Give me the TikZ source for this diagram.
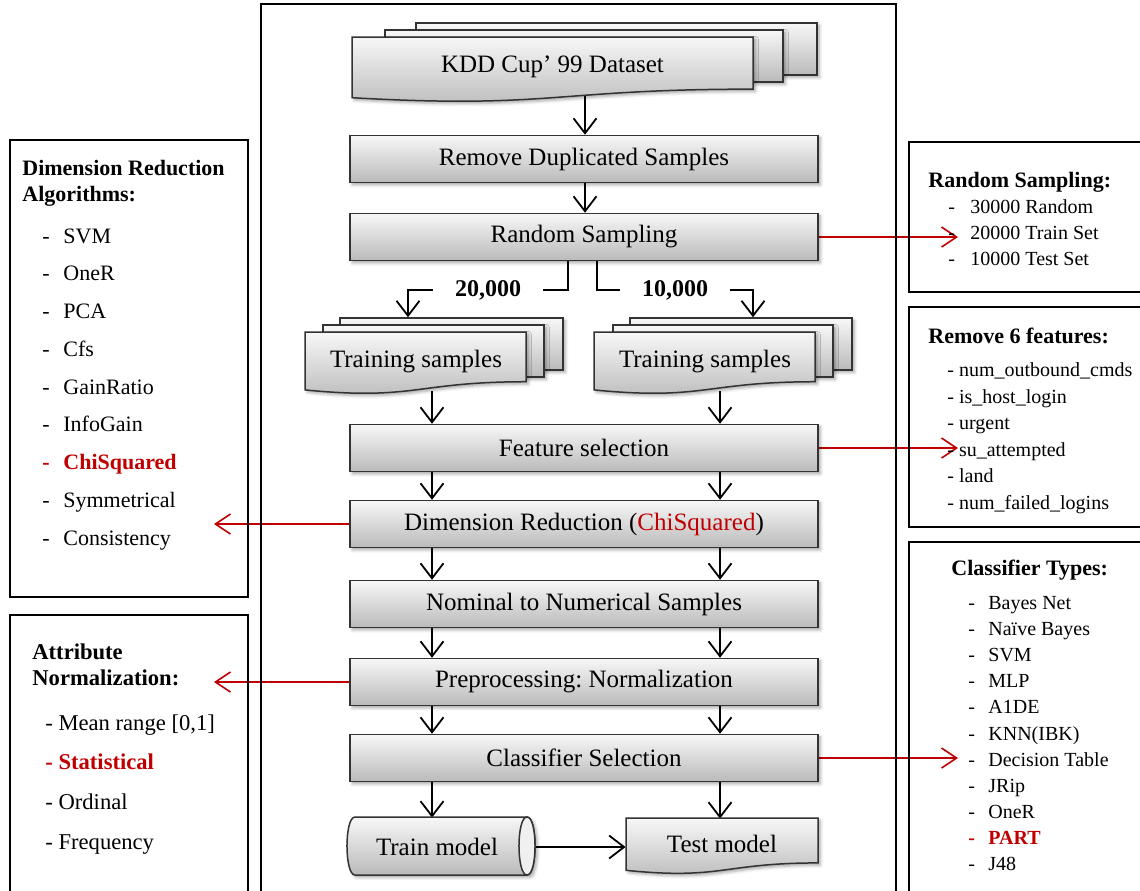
\documentclass[tikz,border=0pt]{standalone}
\usepackage{fontspec}
\setmainfont{Liberation Serif}
\usetikzlibrary{arrows.meta,shadows.blur,calc}
\definecolor{myred}{RGB}{192,0,0}
\pgfdeclarelayer{background}
\pgfsetlayers{background,main}
\frenchspacing
\newcommand\hlfmt{\color{myred}\bfseries}
\newcommand\mydoc[4]{% x1,y1,x2,h
  \path[gfill,shd] (#1,#2) -- (#3,#2) -- (#3,{#2+0.802*#4})
    .. controls ({(#1+#3)/2},{#2+0.802*#4}) and ({(#1+#3)/2},{#2+1.108*#4}) .. (#1,{#2+0.934*#4}) -- cycle;}
\tikzset{
  shd/.style={blur shadow={shadow xshift=1.2pt,shadow yshift=-1.2pt,shadow blur radius=1.5pt,shadow opacity=35}},
  gfill/.style={top color=black!3, bottom color=black!27, draw=black!80, line width=0.75pt},
  box/.style={gfill, shd, minimum width=234pt, minimum height=23.5pt, inner sep=0pt, font=\fontsize{12.5}{15}\selectfont},
  layerbox/.style={gfill, shd, inner sep=0pt},
  doctext/.style={inner sep=0pt, font=\fontsize{12.5}{15}\selectfont},
  frame/.style={draw=black, line width=1pt},
  arr/.style={draw=black, line width=0.9pt, -{Straight Barb[length=7.5pt,width=11.5pt]}},
  rarr/.style={draw=myred, line width=1pt, -{Straight Barb[length=7.5pt,width=10pt,line width=0.8pt]}},
  lbl/.style={fill=white, inner xsep=11pt, inner ysep=2pt, font=\fontsize{12}{14}\selectfont\bfseries},
  itm/.style={anchor=base west, inner sep=0pt, font=\fontsize{11}{13}\selectfont},
  sitm/.style={anchor=base west, inner sep=0pt, font=\fontsize{10}{12}\selectfont},
  litm/.style={anchor=base west, inner sep=0pt, font=\fontsize{11.3}{13}\selectfont},
  ttl/.style={itm, font=\fontsize{11}{13}\selectfont\bfseries},
  lttl/.style={itm, font=\fontsize{11.3}{13}\selectfont\bfseries},
}
\begin{document}
\begin{tikzpicture}[x=0.5pt,y=-0.5pt]
\useasboundingbox (0,0) rectangle (1140,890);
\clip (0,0) rectangle (1140,890);

% lane coordinates
\coordinate (lane0) at (585,0);
\coordinate (laneL) at (432,0);
\coordinate (laneR) at (720,0);
\coordinate (sL) at (568,0);
\coordinate (sR) at (597,0);
\coordinate (aL) at (408,0);
\coordinate (aR) at (753,0);
\coordinate (tipR) at (958,0);
\coordinate (tipL) at (214,0);

% frames
\draw[frame] (261,4) rectangle (896,910);
\draw[frame] (10,140) rectangle (248,597);
\draw[frame] (10,615) rectangle (248,910);
\draw[frame] (909,142) rectangle (1160,292);
\draw[frame] (909,307) rectangle (1160,527);
\draw[frame] (909,542) rectangle (1160,910);

% KDD multidocument
\node[layerbox, minimum width=200.5pt, minimum height=26pt] (kddb) at (616.5,49) {};
\node[layerbox, minimum width=199pt, minimum height=26pt] (kddm) at (584,56) {};
\mydoc{352}{37}{753}{65}
\node[doctext, minimum width=200.5pt, minimum height=29pt] (kdd) at (552.5,67) {KDD Cup’ 99 Dataset};

% boxes
\node[box] (rds) at (584,159) {Remove Duplicated Samples};
\node[box] (rs) at (584,237) {Random Sampling};

% training samples left
\node[layerbox, minimum width=111.5pt, minimum height=26pt] (tslb) at (451.5,344) {};
\node[layerbox, minimum width=110.5pt, minimum height=26pt] (tslm) at (433.5,351) {};
\mydoc{305}{332}{526}{62}
\node[doctext, minimum width=110.5pt, minimum height=29pt] (tsl) at (416,362) {Training samples};

% training samples right
\node[layerbox, minimum width=111pt, minimum height=26pt] (tsrb) at (741,344) {};
\node[layerbox, minimum width=110pt, minimum height=26pt] (tsrm) at (723,351) {};
\mydoc{594}{332}{815}{62}
\node[doctext, minimum width=110.5pt, minimum height=29pt] (tsr) at (705,362) {Training samples};

\node[box] (fs) at (584,448) {Feature selection};
\node[box] (dr) at (584,524) {Dimension Reduction (\textcolor{myred}{ChiSquared})};
\node[box] (nn) at (584,604) {Nominal to Numerical Samples};
\node[box] (pp) at (584,682) {Preprocessing: Normalization};
\node[box] (cs) at (584,758) {Classifier Selection};

% train model cylinder
\path[gfill,shd] (355,817) -- (527,817) .. controls (537.7,817) and (537.7,875) .. (527,875)
  -- (355,875) .. controls (344.3,875) and (344.3,817) .. (355,817) -- cycle;
\path[draw=black!80, line width=0.75pt, fill=black!6] (527,817) .. controls (537.7,817) and (537.7,875) .. (527,875)
  .. controls (516.3,875) and (516.3,817) .. (527,817) -- cycle;
\node[doctext, minimum width=90pt, minimum height=29pt] (train) at (437,847) {Train model};

% test model
\mydoc{626}{818}{818}{56}
\node[doctext, minimum width=96pt, minimum height=25pt] (test) at (722,844) {Test model};

% connectors
\begin{pgfonlayer}{background}
\draw[arr] (kdd.south -| lane0) -- (rds.north -| lane0);
\draw[arr] (rds.south -| lane0) -- (rs.north -| lane0);
\draw[arr] (rs.south -| sL) -- ++(0,29) -| node[lbl,pos=0.25] (n20) {20,000} (tslb.north -| aL);
\draw[arr] (rs.south -| sR) -- ++(0,29) -| node[lbl,pos=0.25] (n10) {10,000} (tsrb.north -| aR);
\draw[arr] (tsl.south -| laneL) -- (fs.north -| laneL);
\draw[arr] (tsr.south -| laneR) -- (fs.north -| laneR);
\draw[arr] (fs.south -| laneL) -- (dr.north -| laneL);
\draw[arr] (fs.south -| laneR) -- (dr.north -| laneR);
\draw[arr] (dr.south -| laneL) -- (nn.north -| laneL);
\draw[arr] (dr.south -| laneR) -- (nn.north -| laneR);
\draw[arr] (nn.south -| laneL) -- (pp.north -| laneL);
\draw[arr] (nn.south -| laneR) -- (pp.north -| laneR);
\draw[arr] (pp.south -| laneL) -- (cs.north -| laneL);
\draw[arr] (pp.south -| laneR) -- (cs.north -| laneR);
\draw[arr] (cs.south -| laneL) -- (train.north -| laneL);
\draw[arr] (cs.south -| laneR) -- (test.north -| laneR);
\draw[arr] (train.east) -- (train.east -| test.west);
% red arrows
\draw[rarr] (rs.east) -- (rs.east -| tipR);
\draw[rarr] (fs.east) -- (fs.east -| tipR);
\draw[rarr] (cs.east) -- (cs.east -| tipR);
\draw[rarr] (dr.west) -- (dr.west -| tipL);
\draw[rarr] (pp.west) -- (pp.west -| tipL);
\end{pgfonlayer}

% left box 1
\node[ttl] (drt1) at (22,175) {Dimension Reduction};
\node[ttl] (drt2) at (22,201) {Algorithms:};
\foreach \t/\s [count=\i] in {SVM/\relax, OneR/\relax, PCA/\relax, Cfs/\relax, GainRatio/\relax, InfoGain/\relax, ChiSquared/\hlfmt, Symmetrical/\relax, Consistency/\relax}
  \node[itm] (dra\i) at (42,{243+(\i-1)*37.75}) {\s\makebox[10.5pt][l]{-}\t};

% left box 2
\node[lttl] (ant1) at (32,659) {Attribute};
\node[lttl] (ant2) at (32,685) {Normalization:};
\foreach \t/\s [count=\i] in {{Mean range [0,1]}/\relax, Statistical/\hlfmt, Ordinal/\relax, Frequency/\relax}
  \node[litm] (ana\i) at (45,{730+(\i-1)*39.67}) {\s- \t};

% right box 1
\node[ttl] (rst) at (928,187) {Random Sampling:};
\foreach \t [count=\i] in {30000 Random, 20000 Train Set, 10000 Test Set}
  \node[sitm] (rsa\i) at (948,{213.5+(\i-1)*26}) {\makebox[11pt][l]{-}\t};

% right box 2
\node[ttl] (rft) at (928,343) {Remove 6 features:};
\foreach \t [count=\i] in {num\_outbound\_cmds, is\_host\_login, urgent, su\_attempted, land, num\_failed\_logins}
  \node[sitm] (rfa\i) at (947,{376.5+(\i-1)*26.6}) {- \t};

% right box 3
\node[ttl] (ctt) at (951,575) {Classifier Types:};
\foreach \t/\s [count=\i] in {Bayes Net/\relax, Naïve Bayes/\relax, SVM/\relax, MLP/\relax, A1DE/\relax, KNN(IBK)/\relax, Decision Table/\relax, JRip/\relax, OneR/\relax, PART/\hlfmt, J48/\relax}
  \node[sitm] (cta\i) at (968,{609.5+(\i-1)*26.1}) {\s\makebox[10pt][l]{-}\t};

\end{tikzpicture}
\end{document}
